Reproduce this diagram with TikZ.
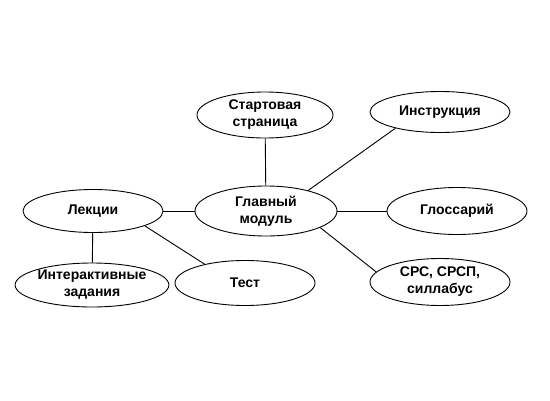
\documentclass[tikz,border=0pt]{standalone}
\usepackage{fontspec}
\setmainfont{Liberation Sans}
\usetikzlibrary{shapes.geometric}

\begin{document}
\begin{tikzpicture}[x=1pt,y=-1pt,
    part/.style={ellipse, draw, line width=0.9pt, inner sep=0pt, align=center,
        minimum width=140pt, minimum height=46pt,
        font=\fontsize{14}{17}\selectfont\bfseries},
    link/.style={line width=0.9pt}]
        \useasboundingbox (0,0) rectangle (550,400);
        \node [part, minimum width=136pt] (start) at (265,115) {Стартовая\\страница};
        \node [part, minimum height=41pt] (instr) at (440,112) {Инструкция};
        \node [part, minimum width=142pt, minimum height=50pt] (main) at (266,211) {Главный\\модуль};
        \node [part, minimum height=43pt] (lect) at (93,211) {Лекции};
        \node [part, minimum height=47pt] (gloss) at (457,211) {Глоссарий};
        \node [part, minimum width=146pt, minimum height=44pt] (inter) at (92,285) {Интерактивные\\задания};
        \node [part, minimum height=45pt] (test) at (245,283) {Тест};
        \node [part, minimum height=47pt] (srs) at (440,282) {СРС, СРСП,\\силлабус};
        \draw [link] (start) -- (main);
        \draw [link] (main.26) -- (instr.200);
        \draw [link] (main) -- (gloss);
        \draw [link] (main.343) -- (srs.171);
        \draw [link] (lect) -- (main);
        \draw [link] (lect) -- (inter);
        \draw [link] (lect.344) -- (test.155);
    \end{tikzpicture}
\end{document}
